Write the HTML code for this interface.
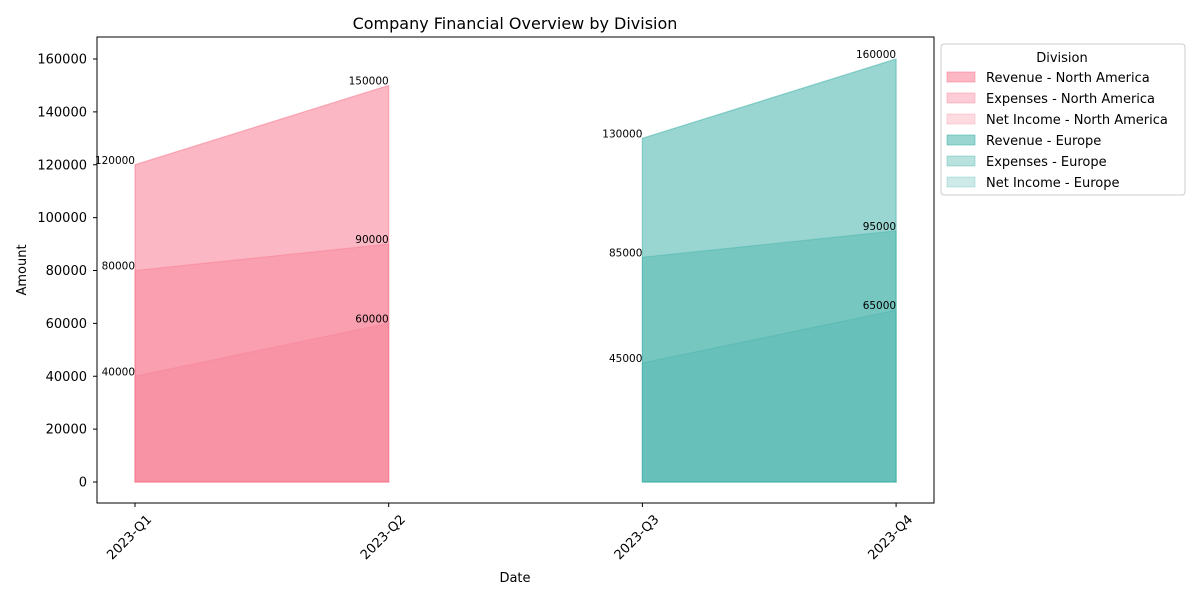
<!DOCTYPE html>
<html><head><meta charset="utf-8"><style>
body{margin:0;background:#fff;font-family:"Liberation Sans","DejaVu Sans",sans-serif}
svg text{font-family:"DejaVu Sans","Liberation Sans",sans-serif}
</style></head><body>
<svg id="c" width="1200" height="600" xmlns="http://www.w3.org/2000/svg"></svg>
<script>
const quarters=["2023-Q1","2023-Q2","2023-Q3","2023-Q4"];
const naIdx=[0,1];
const euIdx=[2,3];
const naRevenue=[120000,150000];
const naExpenses=[80000,90000];
const naNet=[40000,60000];
const euRevenue=[130000,160000];
const euExpenses=[85000,95000];
const euNet=[45000,65000];
const yTicks=[0,20000,40000,60000,80000,100000,120000,140000,160000];
const legendLabels=["Revenue - North America","Expenses - North America","Net Income - North America","Revenue - Europe","Expenses - Europe","Net Income - Europe"];

const NS="http://www.w3.org/2000/svg";
const svg=document.getElementById('c');
const L=97,R=934,T=37,B=503;
function x(i){return 135+i*253.7;}
function y(v){return 482-v*(423/160000);}
function mk(tag,attrs,parent){const e=document.createElementNS(NS,tag);for(const k in attrs)e.setAttribute(k,attrs[k]);(parent||svg).appendChild(e);return e;}
function txt(s,attrs){const e=mk('text',attrs);e.textContent=s;return e;}

const t=txt("Company Financial Overview by Division",{x:515,y:29,'font-size':16,'text-anchor':'middle',fill:'#000'});



function area(idx,vals,color,op,name){
  let d="M"+x(idx[0])+","+y(0);
  idx.forEach((q,k)=>{d+=" L"+x(q)+","+y(vals[k]);});
  d+=" L"+x(idx[idx.length-1])+","+y(0)+" Z";
  const p=mk('path',{d:d,fill:color,'fill-opacity':op,stroke:color,'stroke-opacity':op,'stroke-width':1.2});
  
  
  idx.forEach((q,k)=>{
    const l=txt(String(vals[k]),{x:x(q),y:y(vals[k])-1,'font-size':10.5,'text-anchor':'end',fill:'#000'});
    
    
  });
}
const pink="#f77189",teal="#36ada4";
area(naIdx,naRevenue,pink,0.5,'area-revenue-north-america');
area(naIdx,naExpenses,pink,0.35,'area-expenses-north-america');
area(naIdx,naNet,pink,0.25,'area-net-income-north-america');
area(euIdx,euRevenue,teal,0.5,'area-revenue-europe');
area(euIdx,euExpenses,teal,0.35,'area-expenses-europe');
area(euIdx,euNet,teal,0.25,'area-net-income-europe');

const frame=mk('rect',{x:L,y:T,width:R-L,height:B-T,fill:'none',stroke:'#000','stroke-width':1});



yTicks.forEach(v=>{
  mk('line',{x1:L-4,x2:L,y1:y(v),y2:y(v),stroke:'#000'});
  const l=txt(String(v),{x:L-10,y:y(v)+4.5,'font-size':13,'text-anchor':'end',fill:'#000'});
  
  
});
quarters.forEach((q,i)=>{
  mk('line',{x1:x(i),x2:x(i),y1:B,y2:B+4,stroke:'#000'});
  const cx=x(i)-6, cy=B+34;
  const l=txt(q,{x:cx,y:cy+4.5,'font-size':13,'text-anchor':'middle',fill:'#000',transform:`rotate(-45 ${cx} ${cy})`});
  
  
});
const xt=txt("Date",{x:515,y:582,'font-size':13,'text-anchor':'middle'});


const yt=txt("Amount",{x:0,y:0,'font-size':13,'text-anchor':'middle',transform:'translate(26 270) rotate(-90)'});



const lg=mk('g',{});


mk('rect',{x:941,y:44,width:244,height:151,rx:3,fill:'#fff',stroke:'#ccc'},lg);
const lt=txt("Division",{x:1062,y:62,'font-size':13,'text-anchor':'middle'});
lg.appendChild(lt);
const ops=[0.5,0.35,0.25,0.5,0.35,0.25];
legendLabels.forEach((s,i)=>{
  const c=i<3?pink:teal;
  const yy=77+i*21;
  const sw=mk('rect',{x:947,y:yy-5,width:28,height:10,fill:c,'fill-opacity':ops[i],stroke:c,'stroke-opacity':ops[i]},lg);
  
  
  const e=txt(s,{x:986,y:yy+5,'font-size':13});
  lg.appendChild(e);
  
  
});
</script>
</body></html>
